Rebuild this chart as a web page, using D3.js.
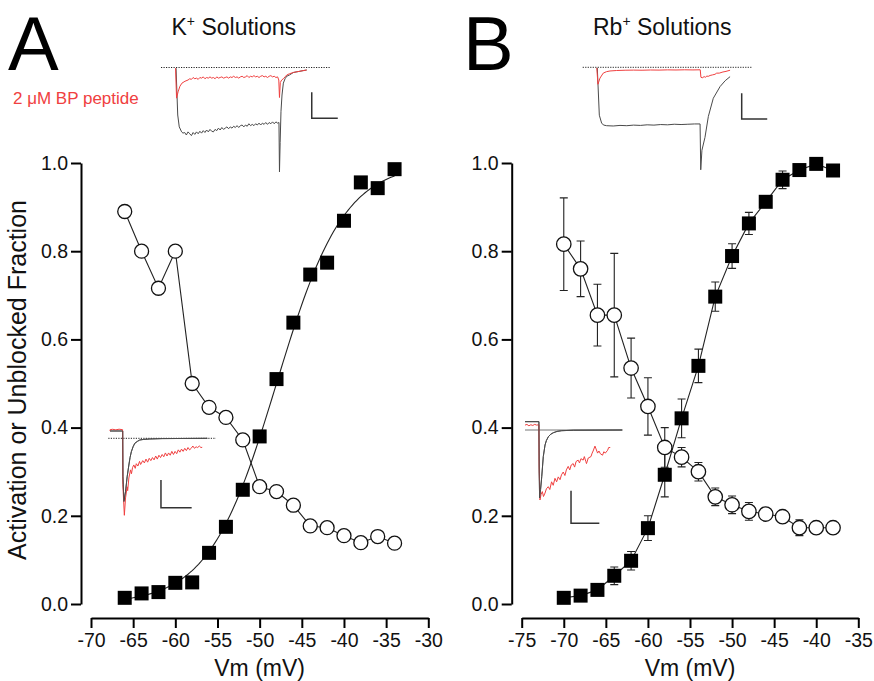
<!DOCTYPE html>
<html>
<head>
<meta charset="utf-8">
<script src="https://cdn.jsdelivr.net/npm/d3@7/dist/d3.min.js"></script>
<style>
  html, body { margin: 0; padding: 0; background: #fff; }
  svg { display: block; font-family: "Liberation Sans", Arial, Helvetica, sans-serif; }
  .axis path, .axis line { stroke: #000; stroke-width: 2; }
</style>
</head>
<body>
<svg id="fig" width="874" height="681"></svg>
<script>
// ---- Panel A: K+ solutions ----
const vmA = [-66, -64, -62, -60, -58, -56, -54, -52, -50, -48, -46, -44, -42, -40, -38, -36, -34];
const activationA = [0.014, 0.024, 0.027, 0.048, 0.049, 0.116, 0.175, 0.259, 0.380, 0.510, 0.638, 0.747, 0.774, 0.869, 0.956, 0.943, 0.986];
const unblockedA = [0.890, 0.800, 0.716, 0.800, 0.500, 0.446, 0.423, 0.372, 0.266, 0.255, 0.224, 0.177, 0.173, 0.155, 0.139, 0.153, 0.138];
// Boltzmann fit to activation (K+)
const fitVHalfA = -48;
const fitSlopeA = 4;
const fitRangeA = [-66, -34];

// ---- Panel B: Rb+ solutions ----
const vmB = [-70, -68, -66, -64, -62, -60, -58, -56, -54, -52, -50, -48, -46, -44, -42, -40, -38];
const activationB = [0.014, 0.019, 0.032, 0.064, 0.098, 0.172, 0.293, 0.421, 0.540, 0.697, 0.789, 0.863, 0.912, 0.962, 0.984, 0.998, 0.983];
const activationErrB = [0.006, 0.008, 0.010, 0.020, 0.021, 0.028, 0.050, 0.044, 0.038, 0.033, 0.028, 0.025, 0.010, 0.020, 0.010, 0.006, 0.010];
const unblockedB = [0.816, 0.760, 0.655, 0.655, 0.535, 0.448, 0.355, 0.333, 0.300, 0.243, 0.225, 0.210, 0.204, 0.198, 0.173, 0.173, 0.173];
const unblockedErrB = [0.105, 0.063, 0.070, 0.140, 0.068, 0.065, 0.045, 0.022, 0.021, 0.020, 0.020, 0.020, 0.010, 0.010, 0.018, 0.006, 0.006];

// ---- Axis ticks ----
const yTicks = [0, 0.2, 0.4, 0.6, 0.8, 1.0];
const xTicksA = [-70, -65, -60, -55, -50, -45, -40, -35, -30];
const xTicksB = [-75, -70, -65, -60, -55, -50, -45, -40, -35];

// ---- Current trace insets: [time (ms, arbitrary), current (normalised, inward negative)] ----
const traceKTopControl = [[8.9,-0.01],[9.9,-0.76],[10.8,-0.95],[12.2,-1.03],[13,-1.05],[14,-1.04],[15,-1.08],[16,-1.03],[17,-1.06],[18,-1.09],[19,-1.04],[20,-1.07],[21,-1.03],[22,-1.06],[23,-1.02],[24,-1.05],[25,-1.01],[26,-1.04],[27,-1.0],[28,-1.03],[29,-0.99],[30,-1.02],[31,-1.03],[32,-0.99],[33,-1.01],[34,-0.97],[35,-1.0],[36,-0.96],[37,-0.99],[38,-0.97],[39,-0.95],[40,-0.98],[41,-0.95],[42,-0.97],[43,-0.94],[44,-0.96],[45,-0.93],[46,-0.96],[47,-0.93],[48,-0.92],[49,-0.95],[50,-0.92],[51,-0.94],[52,-0.9],[53,-0.93],[54,-0.91],[55,-0.93],[56,-0.9],[57,-0.92],[58,-0.89],[59,-0.92],[60,-0.89],[61,-0.91],[62,-0.88],[63,-0.91],[64,-0.88],[65,-0.9],[66,-0.87],[67,-0.9],[68,-0.87],[69,-0.89],[69.8,-0.88],[70.1,-1.67],[70.5,-1.2],[71,-0.7],[71.6,-0.44],[72.4,-0.25],[73.4,-0.18],[74.4,-0.14],[76,-0.12],[78.3,-0.08],[82.2,-0.06],[86.2,-0.04]];
const traceKTopPeptide = [[8.6,-0.01],[9.2,-0.49],[10.1,-0.39],[11.2,-0.30],[12.4,-0.25],[14.2,-0.22],[16,-0.2],[17,-0.18],[18,-0.19],[19,-0.16],[20,-0.18],[21,-0.17],[22,-0.19],[23,-0.16],[24,-0.17],[25,-0.15],[26,-0.18],[27,-0.16],[28,-0.17],[29,-0.15],[30,-0.17],[31,-0.16],[32,-0.18],[33,-0.15],[34,-0.17],[35,-0.16],[36,-0.15],[37,-0.17],[38,-0.16],[39,-0.15],[40,-0.17],[41,-0.15],[42,-0.16],[43,-0.14],[44,-0.16],[45,-0.15],[46,-0.17],[47,-0.15],[48,-0.14],[49,-0.16],[50,-0.15],[51,-0.13],[52,-0.16],[53,-0.14],[54,-0.15],[55,-0.13],[56,-0.15],[57,-0.14],[58,-0.16],[59,-0.14],[60,-0.13],[61,-0.15],[62,-0.14],[63,-0.16],[64,-0.14],[65,-0.13],[66,-0.15],[67,-0.14],[68,-0.16],[69,-0.15],[69.7,-0.2],[70.1,-0.48],[70.6,-0.24],[71.4,-0.2],[72.4,-0.18],[73.4,-0.15],[74.4,-0.12],[76,-0.1],[78.3,-0.08],[80,-0.07],[82.2,-0.06],[84,-0.05],[86.2,-0.04]];
const traceRbTopControl = [[8.6,-0.01],[9.8,-0.82],[11.2,-0.96],[12.5,-0.99],[14.1,-1.0],[18,-1.005],[22,-0.995],[26,-1.0],[30,-0.99],[34,-0.995],[38,-0.985],[42,-0.99],[46,-0.98],[50,-0.985],[54,-0.975],[58,-0.98],[62,-0.975],[66,-0.97],[69.2,-0.97],[69.6,-1.755],[70.3,-1.42],[72.1,-1.2],[74.1,-0.84],[77,-0.53],[81,-0.33],[84,-0.23],[86.9,-0.16]];
const traceRbTopPeptide = [[8.3,-0.01],[9.0,-0.29],[10.2,-0.185],[12.1,-0.10],[14,-0.075],[16.1,-0.063],[20,-0.055],[25,-0.05],[30,-0.048],[35,-0.05],[40,-0.046],[45,-0.048],[50,-0.044],[55,-0.046],[60,-0.043],[65,-0.045],[69.3,-0.043],[69.7,-0.17],[70.5,-0.18],[71.6,-0.16],[72.5,-0.17],[73.2,-0.15],[74,-0.155],[75.1,-0.14],[76.5,-0.13],[78,-0.12],[79,-0.1],[80.5,-0.1],[82.7,-0.08],[84.5,-0.07],[86.9,-0.05]];
const traceKTailControl = [[1.6,0.095],[13.4,0.095],[13.6,-0.5],[14.5,-0.82],[16,-0.693],[17.5,-0.5],[19.1,-0.347],[20.2,-0.25],[21.4,-0.174],[23,-0.11],[24.6,-0.065],[27,-0.04],[29.2,-0.022],[33,-0.014],[38.5,-0.009],[50,-0.004],[70,-0.002],[92,0]];
const traceKTailPeptide = [[1.6,0.095],[1.7,0.112],[4,0.117],[7,0.11],[10,0.118],[13.3,0.112],[13.5,-0.6],[14.9,-1.0],[16,-0.775],[17.5,-0.63],[18,-0.68],[19.1,-0.515],[20.6,-0.41],[21.5,-0.46],[22.5,-0.38],[23.7,-0.346],[25,-0.39],[26,-0.33],[27.5,-0.36],[29,-0.3],[30,-0.34],[32,-0.29],[33.5,-0.32],[35,-0.27],[36.5,-0.31],[38,-0.26],[39.5,-0.29],[41,-0.25],[42.5,-0.28],[44,-0.23],[45.5,-0.27],[47,-0.22],[48.5,-0.25],[50,-0.21],[51.5,-0.24],[53,-0.19],[54.5,-0.23],[56,-0.19],[57.5,-0.22],[59,-0.17],[60.5,-0.21],[62,-0.17],[63.5,-0.2],[65,-0.15],[66.5,-0.18],[68,-0.14],[69.5,-0.17],[71,-0.13],[72.5,-0.16],[74,-0.12],[75.5,-0.15],[77,-0.13],[78.5,-0.1],[80,-0.13],[81.5,-0.11],[83,-0.12],[84.5,-0.1],[86,-0.12],[87.2,-0.117]];
const traceRbTailControl = [[0,0.119],[14.3,0.119],[14.6,-0.6],[15,-0.97],[16,-0.85],[17.2,-0.667],[18.8,-0.38],[20.6,-0.214],[22,-0.15],[24,-0.096],[26.5,-0.06],[29.1,-0.039],[33,-0.02],[37.7,-0.01],[50,-0.003],[100,0]];
const traceRbTailPeptide = [[0,0.07],[2,0.08],[4,0.06],[6,0.075],[8,0.065],[10,0.08],[12,0.07],[14.3,0.075],[14.5,-0.5],[15.4,-1.0],[16.5,-0.92],[17.8,-0.88],[19,-0.95],[20.6,-0.9],[22,-0.84],[23.9,-0.81],[25.5,-0.85],[27.3,-0.74],[29,-0.79],[30.8,-0.69],[32.5,-0.74],[34.2,-0.67],[36,-0.71],[37.5,-0.64],[39.3,-0.6],[41,-0.65],[42.5,-0.57],[44.4,-0.52],[46,-0.57],[47.5,-0.5],[49.5,-0.48],[51,-0.53],[52.5,-0.45],[54.6,-0.43],[56,-0.47],[57.5,-0.41],[59.8,-0.43],[61,-0.38],[62.5,-0.45],[63.2,-0.48],[65,-0.4],[67.8,-0.38],[69,-0.33],[70,-0.3],[71.9,-0.23],[73,-0.27],[74.6,-0.33],[76,-0.3],[77.5,-0.34],[79.7,-0.36],[81,-0.31],[82.5,-0.33],[84.9,-0.29],[86,-0.25],[87.6,-0.25]];

const RED = "#f04040";
const TRACE_GREY = "#4a4a4a";
const FONT = '"Liberation Sans", Arial, Helvetica, sans-serif';

const svg = d3.select("#fig");

// shared vertical scale
const y = d3.scaleLinear().domain([0, 1]).range([604, 163]);

function styleAxis(sel) {
  sel.attr("font-family", FONT).attr("font-size", 19.5);
  sel.selectAll("text").attr("fill", "#111");
}

function drawPanel(opts) {
  const g = svg.append("g");
  const x = d3.scaleLinear().domain(opts.xDomain).range(opts.xRange);

  // axes
  const yAxis = d3.axisLeft(y).tickValues(yTicks).tickFormat(d3.format(".1f"))
    .tickSizeOuter(0).tickSizeInner(10).tickPadding(3);
  g.append("g").attr("class", "axis").attr("transform", `translate(${opts.xRange[0] - 10},0)`)
    .call(yAxis).call(styleAxis);
  const xAxis = d3.axisBottom(x).tickValues(opts.xTicks).tickFormat(d => String(d))
    .tickSizeOuter(0).tickSizeInner(10).tickPadding(5);
  g.append("g").attr("class", "axis").attr("transform", "translate(0,618)")
    .call(xAxis).call(styleAxis);

  g.append("text").attr("x", (opts.xRange[0] + opts.xRange[1]) / 2).attr("y", 676)
    .attr("text-anchor", "middle").attr("font-size", 23).attr("fill", "#111").text("Vm (mV)");

  return { g, x };
}

function drawInset(g, cfg) {
  const tx = d3.scaleLinear().domain([0, 100]).range([cfg.x0, cfg.x1]);
  const ty = d3.scaleLinear().domain([-1, 0]).range([cfg.base + cfg.unit, cfg.base]);
  const line = d3.line().x(d => tx(d[0])).y(d => ty(d[1]));
  // zero-current reference
  g.append("line").attr("x1", tx(0)).attr("x2", tx(100)).attr("y1", ty(0)).attr("y2", ty(0))
    .attr("stroke", cfg.dotted ? "#222" : "#777").attr("stroke-width", 1)
    .attr("stroke-dasharray", cfg.dotted ? "1.2,1.3" : null);
  g.append("path").datum(cfg.control).attr("d", line).attr("fill", "none")
    .attr("stroke", TRACE_GREY).attr("stroke-width", 1);
  g.append("path").datum(cfg.peptide).attr("d", line).attr("fill", "none")
    .attr("stroke", RED).attr("stroke-width", 1);
  if (cfg.controlOnTop) {
    g.append("path").datum(cfg.control).attr("d", line).attr("fill", "none")
      .attr("stroke", TRACE_GREY).attr("stroke-width", 0.9);
  }
  // scale bar
  const sb = cfg.bar;
  g.append("path")
    .attr("d", `M${tx(sb.t)},${ty(sb.i + sb.di)}V${ty(sb.i)}H${tx(sb.t + sb.dt)}`)
    .attr("fill", "none").attr("stroke", "#333").attr("stroke-width", 1.5);
}

// ---------- Panel A ----------
const A = drawPanel({ xDomain: [-70, -30], xRange: [91, 428.3], xTicks: xTicksA });

drawInset(A.g, { x0: 161, x1: 330, base: 67.5, unit: 62.5, dotted: true,
  control: traceKTopControl, peptide: traceKTopPeptide,
  bar: { t: 89.2, i: -0.813, di: 0.416, dt: 15.4 } });
drawInset(A.g, { x0: 108.3, x1: 216, base: 438.3, unit: 77, dotted: true,
  control: traceKTailControl, peptide: traceKTailPeptide, controlOnTop: true,
  bar: { t: 48.9, i: -0.901, di: 0.359, dt: 28.5 } });

// Boltzmann fit line for activation
const boltzA = v => 1 / (1 + Math.exp((fitVHalfA - v) / fitSlopeA));
const fitPtsA = d3.range(fitRangeA[0], fitRangeA[1] + 0.001, 0.25).map(v => [v, boltzA(v)]);
A.g.append("path").datum(fitPtsA)
  .attr("d", d3.line().x(d => A.x(d[0])).y(d => y(d[1])))
  .attr("fill", "none").attr("stroke", "#222").attr("stroke-width", 1.1);

// connecting line for unblocked fraction
const unA = vmA.map((v, i) => [v, unblockedA[i]]);
A.g.append("path").datum(unA)
  .attr("d", d3.line().x(d => A.x(d[0])).y(d => y(d[1])))
  .attr("fill", "none").attr("stroke", "#222").attr("stroke-width", 1.1);

A.g.selectAll("circle.unb").data(unA).join("circle").attr("class", "unb")
  .attr("cx", d => A.x(d[0])).attr("cy", d => y(d[1])).attr("r", 7)
  .attr("fill", "#fff").attr("stroke", "#111").attr("stroke-width", 1.3);
A.g.selectAll("rect.act").data(vmA.map((v, i) => [v, activationA[i]])).join("rect").attr("class", "act")
  .attr("x", d => A.x(d[0]) - 7).attr("y", d => y(d[1]) - 7).attr("width", 14).attr("height", 14)
  .attr("fill", "#000");

// ---------- Panel B ----------
const B = drawPanel({ xDomain: [-75, -35], xRange: [521.7, 858.3], xTicks: xTicksB });

drawInset(B.g, { x0: 582.7, x1: 752.3, base: 67.3, unit: 58.4, dotted: true,
  control: traceRbTopControl, peptide: traceRbTopPeptide,
  bar: { t: 93.75, i: -0.885, di: 0.44, dt: 15.05 } });
drawInset(B.g, { x0: 525, x1: 622.3, base: 430, unit: 70, dotted: false,
  control: traceRbTailControl, peptide: traceRbTailPeptide, controlOnTop: true,
  bar: { t: 47.3, i: -1.333, di: 0.466, dt: 29.1 } });

const actB = vmB.map((v, i) => ({ v, m: activationB[i], e: activationErrB[i] }));
const unB = vmB.map((v, i) => ({ v, m: unblockedB[i], e: unblockedErrB[i] }));
const lineB = d3.line().x(d => B.x(d.v)).y(d => y(d.m));

B.g.append("path").datum(actB).attr("d", lineB)
  .attr("fill", "none").attr("stroke", "#222").attr("stroke-width", 1.1);
B.g.append("path").datum(unB).attr("d", lineB)
  .attr("fill", "none").attr("stroke", "#222").attr("stroke-width", 1.1);

function errorBars(data) {
  const eb = B.g.append("g").attr("stroke", "#222").attr("stroke-width", 1.1).attr("fill", "none");
  eb.selectAll("path").data(data).join("path")
    .attr("d", d => {
      const cx = B.x(d.v), t = y(d.m + d.e), b = y(d.m - d.e);
      return `M${cx},${t}V${b}M${cx - 4},${t}H${cx + 4}M${cx - 4},${b}H${cx + 4}`;
    });
}
errorBars(unB);
errorBars(actB);

B.g.selectAll("circle.unb").data(unB).join("circle").attr("class", "unb")
  .attr("cx", d => B.x(d.v)).attr("cy", d => y(d.m)).attr("r", 7.2)
  .attr("fill", "#fff").attr("stroke", "#111").attr("stroke-width", 1.3);
B.g.selectAll("rect.act").data(actB).join("rect").attr("class", "act")
  .attr("x", d => B.x(d.v) - 7).attr("y", d => y(d.m) - 7).attr("width", 14).attr("height", 14)
  .attr("fill", "#000");

// ---------- Labels ----------
svg.append("text").attr("transform", "translate(26,380) rotate(-90)")
  .attr("text-anchor", "middle").attr("font-size", 25).attr("fill", "#111")
  .text("Activation or Unblocked Fraction");

svg.append("text").attr("x", 8).attr("y", 70).attr("font-size", 76).attr("fill", "#000").text("A");
svg.append("text").attr("x", 463).attr("y", 70).attr("font-size", 76).attr("fill", "#000").text("B");

function title(xPos, ion) {
  const t = svg.append("text").attr("x", xPos).attr("y", 35).attr("font-size", 23).attr("fill", "#111");
  t.append("tspan").text(ion);
  t.append("tspan").attr("dy", -9).attr("font-size", 14).text("+");
  t.append("tspan").attr("dy", 9).text(" Solutions");
}
title(171.5, "K");
title(593, "Rb");

svg.append("text").attr("x", 13).attr("y", 104).attr("font-size", 17).attr("fill", RED)
  .text("2 \u03BCM BP peptide");
</script>
</body>
</html>
